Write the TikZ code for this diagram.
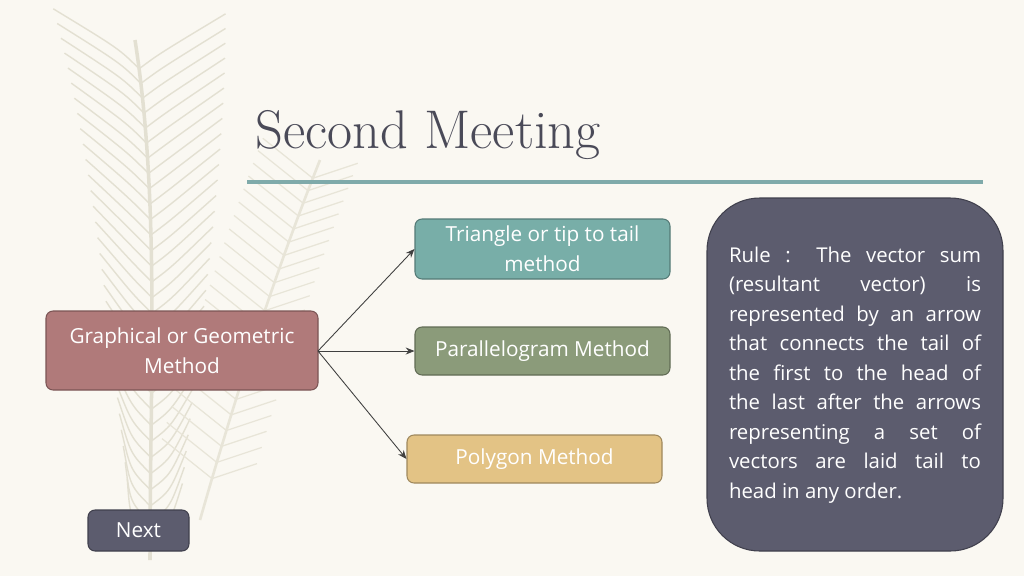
\documentclass[tikz,border=0pt]{standalone}
\usepackage{fontspec}
\setmainfont{Open Sans}
\newfontfamily\titlefont{Latin Modern Roman}
\usetikzlibrary{arrows.meta}
\definecolor{bg}{HTML}{FAF8F2}
\definecolor{feather}{HTML}{E3E0D2}
\definecolor{teal}{HTML}{78AEA8}
\definecolor{sage}{HTML}{8B9B7A}
\definecolor{tan}{HTML}{E3C385}
\definecolor{rose}{HTML}{B07A7A}
\definecolor{slate}{HTML}{5C5C6E}
\definecolor{titlec}{HTML}{4A4A58}
\definecolor{rulec}{HTML}{7FAAAA}
\tikzset{
  box/.style={draw=#1!70!black, line width=0.6pt, fill=#1, rounded corners=4pt, text=white, align=center, font=\fontsize{11.8}{17}\selectfont, inner sep=2pt},
  conn/.style={-{Stealth[length=5pt,width=4pt]}, draw=black!75, line width=0.5pt}
}
\begin{document}
\begin{tikzpicture}[x=0.02cm,y=-0.02cm]
\fill[bg] (0,0) rectangle (1024,576);
\useasboundingbox (0,0) rectangle (1024,576);
% feathers
\draw[feather, line width=2pt] (150,560) .. controls (150,380) and (160,200) .. (135,40);
\foreach \t in {0.04,0.07,...,0.96}{
  \path (150,560) .. controls (150,380) and (160,200) .. (135,40) coordinate[pos=\t] (p);
  \draw[feather, line width=0.8pt] (p) .. controls ++(-20,-20) .. ++(-70*\t-20,-60);
  \draw[feather, line width=0.8pt] (p) .. controls ++(20,-15) .. ++(60*\t+30,-55);
}
\draw[feather!80!bg, line width=1.5pt] (200,520) .. controls (240,380) and (280,260) .. (320,160);
\foreach \t in {0.1,0.14,...,0.95}{
  \path (200,520) .. controls (240,380) and (280,260) .. (320,160) coordinate[pos=\t] (q);
  \draw[feather!80!bg, line width=0.7pt] (q) -- ++(-50,-40);
  \draw[feather!80!bg, line width=0.7pt] (q) -- ++(45,-15);
}
% title
\node[anchor=base west, inner sep=0, text=titlec, font=\titlefont\fontsize{31}{34}\selectfont] (title) at (255,148) {Second Meeting};
\draw[rulec, line width=2pt] (247,182) -- (983,182);
% boxes
\node[box=teal, minimum width=255*0.02cm, minimum height=60*0.02cm] (tri) at (542.5,249) {Triangle or tip to tail\\method};
\node[box=sage, minimum width=255*0.02cm, minimum height=48*0.02cm] (par) at (542.5,351) {Parallelogram Method};
\node[box=tan, minimum width=255*0.02cm, minimum height=48*0.02cm] (pol) at (534.5,459) {Polygon Method};
\node[box=rose, minimum width=272*0.02cm, minimum height=79*0.02cm] (gra) at (182,350.5) {Graphical or Geometric\\Method};
\node[box=slate, minimum width=101*0.02cm, minimum height=41*0.02cm] (nxt) at (138.5,530.5) {Next};
\node[draw=slate!70!black, fill=slate, rounded corners=30pt, minimum width=296*0.02cm, minimum height=353*0.02cm, line width=0.6pt] (rule) at (855,374.5) {};
\node[text=white, text width=252*0.02cm, align=justify, font=\fontsize{11.6}{16.8}\selectfont, inner sep=0] (ruletxt) at (855,375) {Rule : The vector sum\linebreak (resultant vector) is\linebreak represented by an arrow\linebreak that connects the tail of\linebreak the first to the head of\linebreak the last after the arrows\linebreak representing a set of\linebreak vectors are laid tail to\linebreak head in any order.};
% connectors
\coordinate (src) at (318,351);
\draw[conn] (src) -- (tri.west);
\draw[conn] (src) -- (par.west);
\draw[conn] (src) -- (pol.west);
\end{tikzpicture}
\end{document}
